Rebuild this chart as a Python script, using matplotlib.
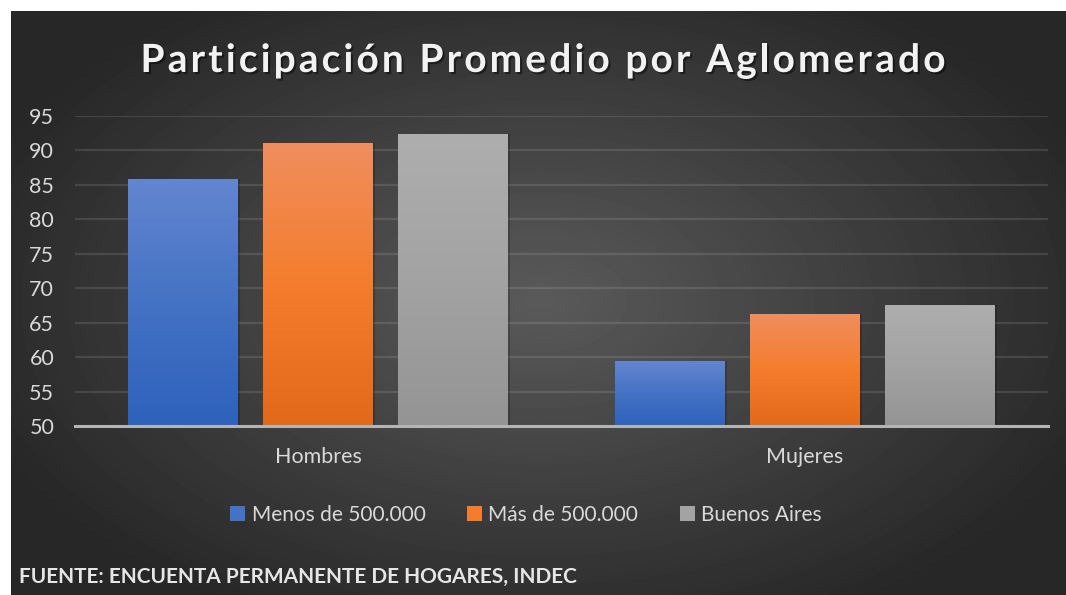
import matplotlib

matplotlib.use("Agg")
import matplotlib.pyplot as plt
import matplotlib.patheffects as pe
import numpy as np
from matplotlib.colors import to_rgb


CATEGORIES = ["Hombres", "Mujeres"]
SERIES = ["Menos de 500.000", "Más de 500.000", "Buenos Aires"]
MENOS_500K = [85.9, 59.4]
MAS_500K = [91.1, 66.3]
BUENOS_AIRES = [92.4, 67.6]
Y_TICKS = [50, 55, 60, 65, 70, 75, 80, 85, 90, 95]
TITLE = "Participación Promedio por Aglomerado"
SOURCE = "FUENTE: ENCUENTA PERMANENTE DE HOGARES, INDEC"

# (top, middle, bottom) gradient colours per series
GRADIENTS = [
    ("#6386D0", "#4472C4", "#2E62BC"),
    ("#F08E5E", "#F47D2D", "#E2691A"),
    ("#AEAEAE", "#A3A3A3", "#949494"),
]
FONT = "Lato"
W, H = 1066, 595


def px(x, y):
    """pixel coords (top-left origin) -> figure fraction"""
    return x / W, 1 - y / H


def gradient_fill(ax, patch, colors, ymin):
    top, mid, bot = (np.array(to_rgb(c)) for c in colors)
    t = np.linspace(0, 1, 120)[:, None]
    upper = top + (mid - top) * np.clip(t * 2, 0, 1)
    lower = mid + (bot - mid) * np.clip(t * 2 - 1, 0, 1)
    rgb = np.where(t < 0.5, upper, lower)[:, None, :]
    x0 = patch.get_x()
    x1 = x0 + patch.get_width()
    y1 = patch.get_y() + patch.get_height()
    im = ax.imshow(rgb, extent=(x0, x1, ymin, y1), aspect="auto",
                   interpolation="bilinear", zorder=3)
    im.set_clip_path(patch)


def spaced_title(fig, text, cx, y, target_w, **kw):
    r = fig.canvas.get_renderer()

    def width(s):
        t = fig.text(0, 0, s, **kw)
        w = t.get_window_extent(r).width
        t.remove()
        return w

    wx = width("x")
    full = width(text)
    spacing = (target_w - full) / (len(text) - 1)
    left = cx - target_w / 2
    for i, ch in enumerate(text):
        off = 0 if i == 0 else width(text[:i] + "x") - wx
        if ch == " ":
            continue
        fx, fy = px(left + off + i * spacing, y)
        fig.text(fx, fy, ch, ha="left", va="baseline", **kw)


fig = plt.figure(figsize=(W / 100, H / 100), dpi=100)
fig.patch.set_facecolor("white")

# dark radial background
bg = fig.add_axes([11 / W, 0, (W - 11) / W, (H - 11) / H])
yy, xx = np.mgrid[11:H, 11:W]
r = np.sqrt(((xx - 540) / 600) ** 2 + ((yy - 300) / 360) ** 2)
v = np.clip(1 - r, 0, 1)
shade = (0x27 + (0x5A - 0x27) * v) / 255
bg.imshow(shade, cmap="gray", vmin=0, vmax=1, aspect="auto", interpolation="bilinear")
bg.axis("off")

x0, y0 = px(75, 426)
x1, y1 = px(1048, 116)
ax = fig.add_axes([x0, y0, x1 - x0, y1 - y0])
ax.patch.set_alpha(0)

x = np.arange(len(CATEGORIES))
bar_w = 0.226
step = 0.2775
containers = []
for i, (vals, grad) in enumerate(zip([MENOS_500K, MAS_500K, BUENOS_AIRES], GRADIENTS)):
    bars = ax.bar(x + (i - 1) * step, vals, bar_w, color=grad[1], zorder=2, label=SERIES[i])
    containers.append(bars)
    for p in bars:
        # soft shadow
        sh = plt.Rectangle((p.get_x() + 0.004, 50), p.get_width(), p.get_height() - 50,
                           color="black", alpha=0.18, zorder=1.5, lw=0)
        ax.add_patch(sh)
        gradient_fill(ax, p, grad, 50)

ax.set_xlim(-0.5, 1.5)
ax.set_ylim(50, 95)
ax.set_yticks(Y_TICKS)
ax.set_xticks(x, CATEGORIES)
ax.yaxis.grid(True, color="#d9d9d9", alpha=0.14, lw=1.6)
ax.set_axisbelow(True)
for s in ["top", "right", "left"]:
    ax.spines[s].set_visible(False)
ax.spines["bottom"].set_color("#b4b4b4")
ax.spines["bottom"].set_linewidth(2.2)
ax.spines["bottom"].set_zorder(4)
ax.tick_params(axis="y", length=0, pad=15, labelcolor="#d9d9d9", labelsize=15.5)
ax.tick_params(axis="x", length=0, pad=15, labelcolor="#d9d9d9", labelsize=15.5)
for lbl in ax.get_xticklabels() + ax.get_yticklabels():
    lbl.set_fontfamily(FONT)

leg = fig.legend(
    [c[0] for c in containers], SERIES,
    loc="center", bbox_to_anchor=px(526, 515), ncol=3, frameon=False,
    prop={"family": FONT, "size": 15}, labelcolor="#d9d9d9",
    handlelength=0.72, handleheight=0.72, handletextpad=0.3, columnspacing=2.0,
)

shadow = [pe.withSimplePatchShadow(offset=(1.5, -1.5), shadow_rgbFace="black", alpha=0.45)]
spaced_title(fig, TITLE, 543, 72, 805, family=FONT, fontsize=28, fontweight="bold",
             color="#f2f2f2", path_effects=shadow)

fx, fy = px(19, 577)
fig.text(fx, fy, SOURCE, family=FONT, fontsize=15.0, fontweight="bold", color="#e6e6e6",
         va="center", ha="left")

fig.savefig("out.png", dpi=100)
